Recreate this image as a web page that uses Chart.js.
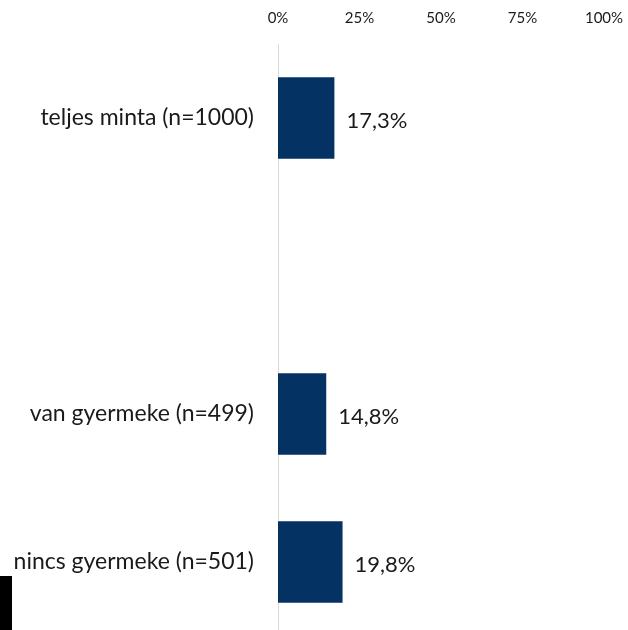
<!DOCTYPE html>
<html>
<head>
<meta charset="utf-8">
<script src="https://cdn.jsdelivr.net/npm/chart.js@4"></script>
<style>
    html, body { margin: 0; padding: 0; background: #fff; overflow: hidden; }
    #wrap { position: relative; width: 628px; height: 636px; }
    #mark { position: absolute; left: 0; top: 576px; width: 12px; height: 60px; background: #000; }
</style>
</head>
<body>
<div id="wrap">
    <canvas id="chart" width="628" height="636"></canvas>
    <div id="mark"></div>
</div>
<script>
// Chart data
const categories = ['teljes minta (n=1000)', '', 'van gyermeke (n=499)', 'nincs gyermeke (n=501)'];
const shares = [17.3, null, 14.8, 19.8];
const tickValues = [0, 25, 50, 75, 100];

const barColor = '#033263';
const fontFamily = 'Lato, "Open Sans", sans-serif';

// Value labels next to the bars
const valueLabels = {
    id: 'valueLabels',
    afterDatasetsDraw(chart) {
        const ctx = chart.ctx;
        const meta = chart.getDatasetMeta(0);
        ctx.save();
        ctx.font = '22px ' + fontFamily;
        ctx.fillStyle = '#1a1a1a';
        ctx.textBaseline = 'middle';
        ctx.textAlign = 'left';
        meta.data.forEach((bar, i) => {
            const v = shares[i];
            if (v === null) return;
            ctx.fillText(v.toFixed(1).replace('.', ',') + '%', bar.x + 12, bar.y + 3);
        });
        ctx.restore();
    }
};

// keep the axes from adding extra room for their labels
function noPadding(scale) {
    scale.paddingLeft = 0;
    scale.paddingRight = 0;
    scale.paddingTop = 0;
    scale.paddingBottom = 0;
}

new Chart(document.getElementById('chart'), {
    type: 'bar',
    data: {
        labels: categories,
        datasets: [{
            data: shares,
            backgroundColor: barColor,
            categoryPercentage: 0.55,
            barPercentage: 1
        }]
    },
    options: {
        indexAxis: 'y',
        responsive: false,
        animation: false,
        layout: { padding: { right: 24, top: 0, bottom: 0, left: 0 } },
        plugins: {
            legend: { display: false },
            tooltip: { enabled: false }
        },
        scales: {
            x: {
                position: 'top',
                min: 0,
                max: 100,
                afterBuildTicks(scale) {
                    scale.ticks = tickValues.map(v => ({ value: v }));
                },
                afterFit(scale) { scale.height = 44; noPadding(scale); },
                grid: { display: false, drawTicks: false },
                border: { display: false },
                ticks: {
                    padding: 17,
                    color: '#1a1a1a',
                    font: { family: fontFamily, size: 15 },
                    maxRotation: 0,
                    callback: v => v + '%'
                }
            },
            y: {
                afterFit(scale) { scale.width = 278; noPadding(scale); },
                grid: { display: false, drawTicks: false },
                border: { display: true, color: '#d9d9d9', width: 1 },
                ticks: {
                    padding: 24,
                    color: '#1a1a1a',
                    font: { family: fontFamily, size: 23 }
                }
            }
        }
    },
    plugins: [valueLabels]
});
</script>
</body>
</html>
